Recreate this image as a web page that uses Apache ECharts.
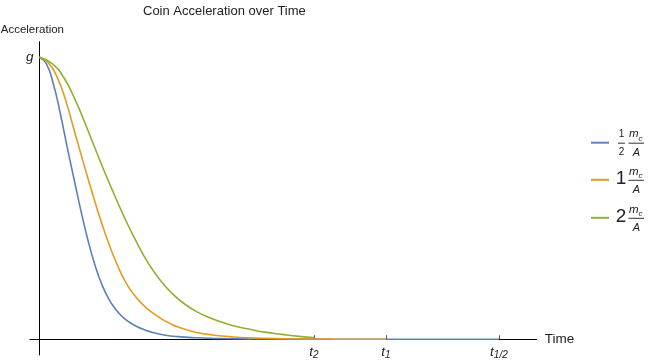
<!DOCTYPE html>
<html>
<head>
<meta charset="utf-8">
<script src="https://cdn.jsdelivr.net/npm/echarts@6/dist/echarts.min.js"></script>
<style>html,body{margin:0;padding:0;background:#fff;}#c{width:653px;height:362px;}</style>
</head>
<body>
<div id="c"></div>
<script>
// Data (time in units of t1, acceleration in units of g)
const seriesNames = ['1/2 m_c/A', '1 m_c/A', '2 m_c/A'];
const tickValues = [0.792, 1.0, 1.326];
const tickLabels = ['{t|t}{s|2}', '{t|t}{s|1}', '{t|t}{s|1/2}'];
const yTickValues = [1];
const yTickLabels = ['{g|g}'];

const blueData = [
  [0, 1], [0.02, 0.977], [0.04, 0.907], [0.06, 0.803], [0.08, 0.683], [0.10, 0.568],
  [0.12, 0.455], [0.14, 0.352], [0.16, 0.265], [0.18, 0.195], [0.20, 0.143], [0.22, 0.106],
  [0.24, 0.079], [0.26, 0.060], [0.28, 0.046], [0.30, 0.035], [0.33, 0.023], [0.36, 0.015],
  [0.40, 0.009], [0.45, 0.005], [0.50, 0.003], [0.60, 0.0012], [0.70, 0.0005], [0.85, 0.0001],
  [1.0, 0], [1.326, 0]
];
const orangeData = [
  [0, 1], [0.025, 0.981], [0.05, 0.933], [0.075, 0.851], [0.10, 0.743], [0.125, 0.635],
  [0.15, 0.530], [0.175, 0.430], [0.20, 0.340], [0.225, 0.263], [0.25, 0.200], [0.275, 0.155],
  [0.30, 0.121], [0.325, 0.095], [0.35, 0.074], [0.375, 0.057], [0.40, 0.043], [0.45, 0.025],
  [0.50, 0.015], [0.55, 0.009], [0.60, 0.005], [0.70, 0.0018], [0.85, 0.0004], [1.0, 0]
];
const greenData = [
  [0, 1], [0.035, 0.979], [0.07, 0.929], [0.105, 0.844], [0.14, 0.741], [0.175, 0.633],
  [0.21, 0.530], [0.245, 0.433], [0.28, 0.345], [0.315, 0.268], [0.35, 0.207], [0.385, 0.160],
  [0.42, 0.124], [0.455, 0.097], [0.49, 0.077], [0.525, 0.061], [0.56, 0.048], [0.60, 0.037],
  [0.65, 0.025], [0.70, 0.017], [0.75, 0.010], [0.792, 0.006]
];
const colors = ['#5E81B5', '#E19C24', '#8FB032'];

const chart = echarts.init(document.getElementById('c'), null, {renderer: 'canvas'});

const FONT = 'Liberation Sans, Arial, sans-serif';
function legendItem(i, yBar, lead, leadBig) {
  const els = [];
  els.push({type: 'line', shape: {x1: 591, y1: yBar, x2: 609, y2: yBar},
            style: {stroke: colors[i], lineWidth: 2}});
  if (leadBig) {
    els.push({type: 'text', style: {text: lead, x: 621, y: yBar - 1.5, textAlign: 'center',
      textVerticalAlign: 'middle', fontSize: 19, fontFamily: FONT, fill: '#222'}});
  } else {
    els.push({type: 'text', style: {text: '1', x: 621.5, y: yBar - 8, textAlign: 'center',
      textVerticalAlign: 'middle', fontSize: 10, fontFamily: FONT, fill: '#222'}});
    els.push({type: 'line', shape: {x1: 618, y1: yBar + 0.5, x2: 625, y2: yBar + 0.5},
      style: {stroke: '#333', lineWidth: 1}});
    els.push({type: 'text', style: {text: '2', x: 621.5, y: yBar + 9.5, textAlign: 'center',
      textVerticalAlign: 'middle', fontSize: 10, fontFamily: FONT, fill: '#222'}});
  }
  els.push({type: 'text', style: {text: 'm', x: 629, y: yBar - 8.5, textAlign: 'left',
    textVerticalAlign: 'middle', fontSize: 11.5, fontStyle: 'italic', fontFamily: FONT, fill: '#222'}});
  els.push({type: 'text', style: {text: 'c', x: 638.5, y: yBar - 4, textAlign: 'left',
    textVerticalAlign: 'middle', fontSize: 8, fontStyle: 'italic', fontFamily: FONT, fill: '#222'}});
  els.push({type: 'line', shape: {x1: 628.5, y1: yBar + 0.5, x2: 644, y2: yBar + 0.5},
    style: {stroke: '#333', lineWidth: 1}});
  els.push({type: 'text', style: {text: 'A', x: 636.5, y: yBar + 10, textAlign: 'center',
    textVerticalAlign: 'middle', fontSize: 11, fontStyle: 'italic', fontFamily: FONT, fill: '#222'}});
  return els;
}

const option = {
  animation: false,
  backgroundColor: '#fff',
  title: {
    text: 'Coin Acceleration over Time',
    left: 143, top: 5, padding: 0,
    textStyle: {fontSize: 13, fontWeight: 'normal', color: '#222', fontFamily: FONT}
  },
  grid: {left: 30, right: 116.3, top: 41.7, bottom: 7, containLabel: false, outerBoundsMode: 'none'},
  xAxis: {
    type: 'value', min: -0.027, max: 1.435,
    name: 'Time', nameLocation: 'end', nameGap: 8,
    nameTextStyle: {fontSize: 13.5, color: '#222', fontFamily: FONT, verticalAlign: 'middle'},
    axisLine: {show: true, onZero: true, lineStyle: {color: '#000', width: 1}},
    axisTick: {show: true, inside: true, length: 4, customValues: tickValues,
      lineStyle: {color: '#555', width: 1}},
    axisLabel: {
      show: true, margin: -11, customValues: tickValues,
      formatter: function (v) {
        for (let i = 0; i < tickValues.length; i++) {
          if (Math.abs(v - tickValues[i]) < 1e-6) return tickLabels[i];
        }
        return '';
      },
      rich: {
        t: {fontSize: 13.5, fontStyle: 'italic', fontFamily: FONT, color: '#222'},
        s: {fontSize: 10, fontStyle: 'italic', fontFamily: FONT, color: '#222', padding: [6, 0, 0, 0]}
      }
    },
    splitLine: {show: false}
  },
  yAxis: {
    type: 'value', min: -0.056, max: 1.055,
    name: 'Acceleration', nameLocation: 'end', nameGap: 6,
    nameTextStyle: {fontSize: 11.5, color: '#222', fontFamily: FONT, align: 'center', padding: [0, 14, 0, 0]},
    axisLine: {show: true, onZero: true, lineStyle: {color: '#000', width: 1}},
    axisTick: {show: false, customValues: yTickValues},
    axisLabel: {
      show: true, margin: -3.5, customValues: yTickValues,
      formatter: function (v) {
        for (let i = 0; i < yTickValues.length; i++) {
          if (Math.abs(v - yTickValues[i]) < 1e-6) return yTickLabels[i];
        }
        return '';
      },
      rich: {g: {fontSize: 13.5, fontStyle: 'italic', fontFamily: FONT, color: '#222'}}
    },
    splitLine: {show: false}
  },
  series: [blueData, orangeData, greenData].map(function (d, i) {
    return {
      name: seriesNames[i], type: 'line', data: d, showSymbol: false,
      smooth: 0.5, clip: false,
      lineStyle: {color: colors[i], width: 1.6}, itemStyle: {color: colors[i]}
    };
  }),
  graphic: [].concat(
    legendItem(0, 142.7, '1/2', false),
    legendItem(1, 179.8, '1', true),
    legendItem(2, 217.8, '2', true)
  )
};
chart.setOption(option);
</script>
</body>
</html>
